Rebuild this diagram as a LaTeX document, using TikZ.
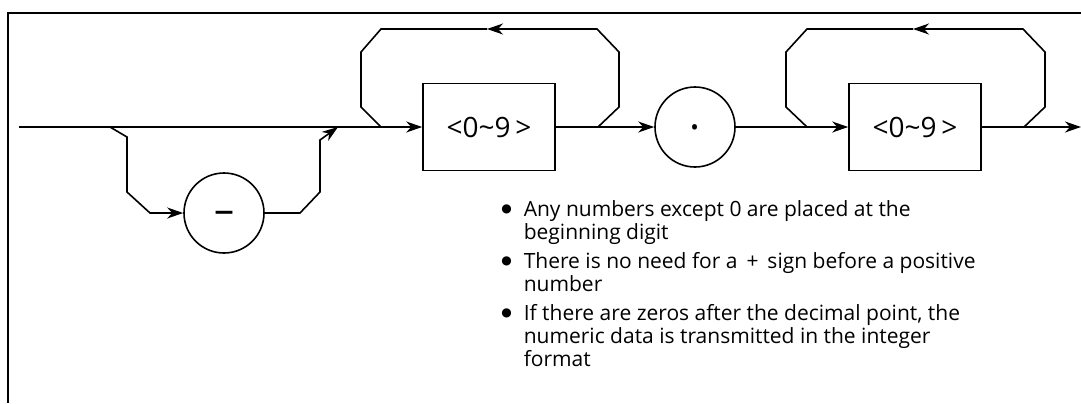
\documentclass[tikz,border=0pt]{standalone}
\usepackage{fontspec}
\setmainfont{Open Sans}
\newfontfamily\symfont{DejaVu Sans}
\usetikzlibrary{positioning}
\usetikzlibrary{arrows.meta}

\newcommand{\notebullet}{\llap{\raisebox{1.6pt}{\symfont\fontsize{6}{6}\selectfont ●}\hspace{6pt}}}

\begin{document}
\begin{tikzpicture}[x=0.5pt, y=-0.5pt, >={Stealth[length=8pt, width=5.5pt, inset=2.5pt]}, line width=0.8pt,
    digits/.style={rectangle, minimum width=66pt, minimum height=43.5pt, draw=black, font=\fontsize{14}{16}\selectfont},
    token/.style={circle, minimum size=40pt, inner sep=0pt, draw=black},
    note/.style={anchor=base west, align=left, inner sep=0pt, font=\fontsize{10.5}{11.5}\selectfont}]
    \useasboundingbox (0, 0) rectangle (1081, 403);
    \draw [line width=1.2pt] (1081, 13) -- (8, 13) -- (8, 403);

    \node [digits] (int) at (489, 127) {<0\textasciitilde 9\,>};
    \node [token, font=\huge] (point) at (695, 127) {.};
    \node [digits] (frac) at (915, 127) {<0\textasciitilde 9\,>};
    \node [token, font=\fontsize{20}{20}\selectfont] (sign) at (224, 213) {\raisebox{-5.2pt}[0pt][0pt]{–}};

    \coordinate (start) at (19, 127);
    \coordinate (split) at (110, 127);
    \coordinate (merge) at (338, 127);
    \coordinate (end) at (1081, 127);
    \coordinate (intin) at (381, 127);
    \coordinate (intout) at (598, 127);
    \coordinate (fracin) at (807, 127);
    \coordinate (fracout) at (1024, 127);

    \draw [->] (start) -- (int);
    \draw [->] (int) -- (point);
    \draw [->] (point) -- (frac);
    \draw [->] (frac) -- (end);

    % optional sign
    \draw [->] (split) -- (127, 137) -- (127, 192) -- (150, 213) -- (sign);
    \draw [->] (sign) -- (300, 213) -- (320, 192) -- (320, 140) -- (merge);

    % repeat loops
    \draw [->] (intout) -- (619, 107) -- (619, 52) -- (597, 29) -- (487, 29);
    \draw (487, 29) -- (381, 29) -- (361, 52) -- (361, 107) -- (intin);
    \draw [->] (fracout) -- (1045, 107) -- (1045, 52) -- (1023, 29) -- (913, 29);
    \draw (913, 29) -- (807, 29) -- (786, 52) -- (786, 107) -- (fracin);

    \node [note] (note1) at (523, 239) {\notebullet Any numbers except 0 are placed at the\\beginning digit};
    \node [note] (note2) at (523, 291) {\notebullet There is no need for a \,+\, sign before a positive\\number};
    \node [note] (note3) at (523, 366) {\notebullet If there are zeros after the decimal point, the\\numeric data is transmitted in the integer\\format};
\end{tikzpicture}
\end{document}
